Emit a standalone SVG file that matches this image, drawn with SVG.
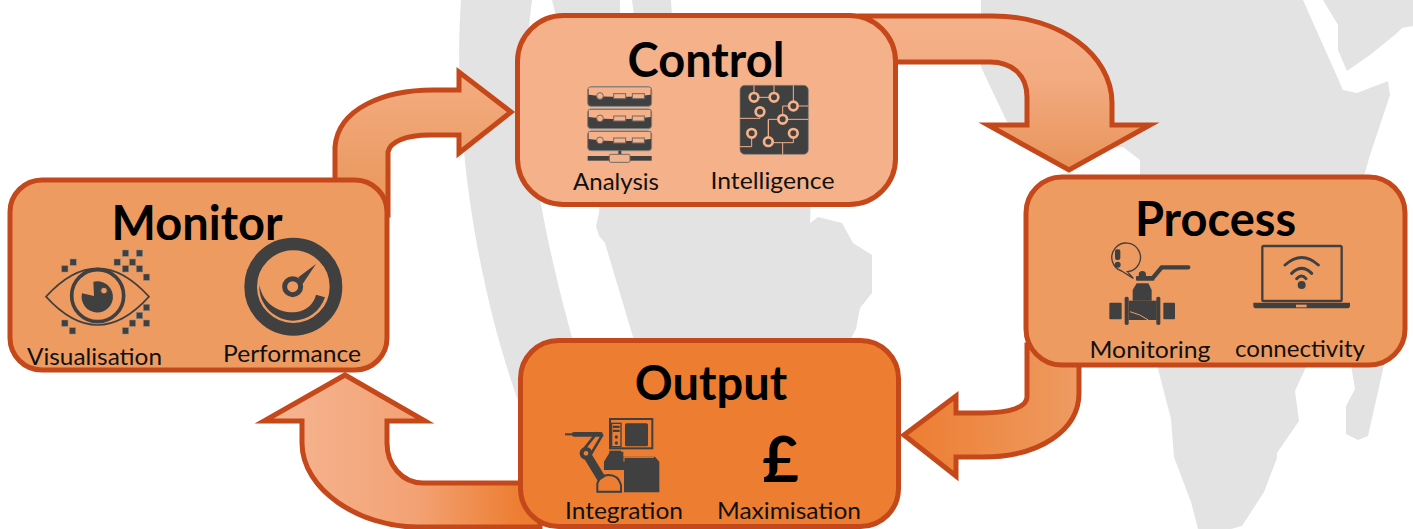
<svg xmlns="http://www.w3.org/2000/svg" width="1413" height="529" viewBox="0 0 1413 529">
<style>
.bg{fill:#e3e3e3}
.box{stroke:#c5481a;stroke-width:5}
.arrow{stroke:#c5481a;stroke-width:5;stroke-linejoin:miter;stroke-miterlimit:10}
text{font-family:Lato,"Open Sans","Liberation Sans",sans-serif;fill:#000}
.title{font-size:47px;font-weight:700;text-anchor:middle}
.label{font-size:23px;text-anchor:middle;fill:#111}
.d{fill:#404040}
.o{fill:none;stroke:#404040}
</style>
<defs>
<linearGradient id="gMC" gradientUnits="userSpaceOnUse" x1="0" y1="68" x2="0" y2="205"><stop offset="0" stop-color="#f4ad83"/><stop offset="1" stop-color="#e9975b"/></linearGradient>
<linearGradient id="gCP" gradientUnits="userSpaceOnUse" x1="0" y1="16" x2="0" y2="170"><stop offset="0" stop-color="#f5b18a"/><stop offset="0.4" stop-color="#f3ab80"/><stop offset="1" stop-color="#e8945a"/></linearGradient>
<linearGradient id="gPO" gradientUnits="userSpaceOnUse" x1="904" y1="0" x2="1079" y2="0"><stop offset="0" stop-color="#ed7d31"/><stop offset="1" stop-color="#ee9b62"/></linearGradient>
<linearGradient id="gOM" gradientUnits="userSpaceOnUse" x1="290" y1="0" x2="520" y2="0"><stop offset="0" stop-color="#f5b38e"/><stop offset="0.55" stop-color="#f3a274"/><stop offset="1" stop-color="#ed7d31"/></linearGradient>
<rect id="px" width="19" height="19" fill="#404040" stroke="#8c8c8c" stroke-width="1.5"/>
<g id="srv">
<rect x="0" y="0" width="192" height="59" rx="10" fill="#404040" stroke="#808080" stroke-width="3"/>
<path d="M3,5 Q3,2 10,2 H182 Q189,2 189,5 V24 Q96,38 3,24 Z" fill="#f5b18a"/>
<circle cx="37" cy="28" r="10" fill="#f5b18a" stroke="#6a6a6a" stroke-width="3"/>
<rect x="78" y="21" width="36" height="15" fill="#f5b18a" stroke="#6a6a6a" stroke-width="3"/>
<rect x="134" y="21" width="36" height="15" fill="#f5b18a" stroke="#6a6a6a" stroke-width="3"/>
</g>
<g id="pad"><circle r="13" fill="#404040" stroke="#f5b18a" stroke-width="8"/></g>
</defs>

<g id="background">
<path class="bg" d="M461,0 C453,110 470,275 525,420 L590,400 C560,300 538,210 529,120 C526,70 528,30 532,0 Z"/>
<path class="bg" d="M552,0 L556,16 L620,16 L620,0 Z M632,0 L634,16 L672,16 L671,0 Z"/>
<path class="bg" d="M530,100 L640,100 L860,205 L811,205 L811,211 L810,223 L818,217 L842,223 L853,243 L872,255 L872,293 L860,308 L856,329 L846,348 L849,380 L664,380 L649,356 L633,337 L605,243 L599,236 L596,226 L599,213 L600,205 L540,205 Z" style="display:none"/>
<path class="bg" d="M600,200 L599,213 L596,226 L599,236 L605,243 L633,337 L649,356 L664,378 L849,378 L846,348 L856,329 L860,308 L872,293 L872,255 L853,243 L842,223 L818,217 L810,223 L811,200 Z"/>
<path class="bg" d="M981,0 L981,67 L1007,122 L1060,150 L1123,147 L1140,160 L1140,180 L1363,180 L1370,155 L1390,95 L1388,81 L1357,93 L1343,90 L1303,0 Z"/>
<path class="bg" d="M1323,0 L1338,25 L1338,50 L1347,71 L1370,55 L1397,33 L1402,28 L1413,26 L1413,0 Z"/>
<path class="bg" d="M1157,365 L1171,419 L1174,457 L1191,502 L1198,529 L1231,529 L1242,526 L1264,492 L1277,458 L1277,453 L1299,421 L1295,391 L1307,365 Z"/>
<path class="bg" d="M1351,365 L1355,389 L1346,406 L1346,434 L1358,440 L1368,436 L1384,365 Z"/>
</g>

<g id="connectors">
<path id="arrow-monitor-control" class="arrow" fill="url(#gMC)" d="M335,190 V147 C338,108 385,90 433,90 H459 V72 L511,112 L459,153 V135 H430 C405,135 390,142 388,152 V215 H335 Z"/>
<path id="arrow-control-process" class="arrow" fill="url(#gCP)" d="M860,16 H993 C1060,16 1112,55 1112,103 V125 H1150 L1069,170 L988,125 H1027 V97 C1027,75 1012,62 990,62 H860 Z"/>
<path id="arrow-process-output" class="arrow" fill="url(#gPO)" d="M1079,345 V393 C1079,430 1040,457 983,457 H956 V476 L904,435 L956,396 V413 H983 C1010,413 1027,407 1027,397 V345 Z"/>
<path id="arrow-output-monitor" class="arrow" fill="url(#gOM)" d="M540,483 H423 C402,483 387,465 387,443 V421 H425 L345,375 L264,421 H302 V443 C302,490 360,527 417,527 H540 Z"/>
</g>

<g id="node-monitor">
<rect class="box" x="10" y="180" width="377" height="190" rx="32" fill="#ee9b62"/>
<text class="title" x="197" y="240">Monitor</text>
<g transform="translate(0,170) scale(.33333)">
<path d="M138,380 Q215,295 293,295 Q370,295 447,380 Q370,465 293,465 Q215,465 138,380 Z" fill="none" stroke="#404040" stroke-width="5"/>
<circle class="o" cx="293" cy="377" r="78" stroke-width="11"/>
<path class="d" d="M280,335 A47,47 0 1 1 246,370 L282,378 Z"/>
<circle cx="312" cy="362" r="10" fill="#ee9b62" stroke="#404040" stroke-width="3"/>
<use href="#px" x="210" y="267"/><use href="#px" x="185" y="287"/><use href="#px" x="367" y="240"/><use href="#px" x="409" y="240"/><use href="#px" x="342" y="267"/><use href="#px" x="388" y="267"/><use href="#px" x="367" y="287"/><use href="#px" x="409" y="287"/><use href="#px" x="430" y="312"/><use href="#px" x="430" y="403"/><use href="#px" x="409" y="427"/><use href="#px" x="388" y="450"/><use href="#px" x="430" y="450"/><use href="#px" x="367" y="473"/><use href="#px" x="185" y="450"/><use href="#px" x="208" y="473"/>
<circle class="o" cx="880" cy="350" r="128" stroke-width="38"/>
<path class="d" d="M778,345 C790,410 850,432 890,426 C920,422 942,400 948,374 L975,382 C960,425 925,450 880,452 C830,452 775,410 778,345 Z"/>
<circle class="o" cx="878" cy="350" r="24" stroke-width="15"/>
<path class="d" d="M895,322 L948,282 L908,342 Z"/>
</g>
<text class="label" x="94.500" y="365" textLength="135" lengthAdjust="spacingAndGlyphs">Visualisation</text>
<text class="label" x="292" y="362" textLength="138" lengthAdjust="spacingAndGlyphs">Performance</text>
</g>

<g id="node-control">
<rect class="box" x="517.500" y="15.500" width="378" height="189" rx="46" fill="#f5b18a"/>
<text class="title" x="706" y="77">Control</text>
<g transform="translate(510,10) scale(.33333)">
<use href="#srv" x="233" y="230"/><use href="#srv" x="233" y="297"/><use href="#srv" x="233" y="363"/>
<rect class="d" x="233" y="438" width="192" height="14"/>
<rect class="d" x="325" y="422" width="9" height="14"/>
<rect x="298" y="433" width="62" height="24" rx="4" fill="#f5b18a" stroke="#6a6a6a" stroke-width="3"/>
<rect x="690" y="226" width="205" height="207" rx="14" fill="#404040" stroke="#808080" stroke-width="2"/>
<path d="M732,226 V262 H792 M792,226 V262 M850,226 V288 H818 V328 M895,288 H850 M690,325 H750 V305 M818,328 H895 M818,328 H775 V395 M725,370 V410 H690 M775,395 H775 M775,330 V410 M850,370 V398 H818 V433 M818,398 H775" fill="none" stroke="#f5b18a" stroke-width="3"/>
<use href="#pad" x="732" y="262"/><use href="#pad" x="792" y="262"/><use href="#pad" x="850" y="288"/><use href="#pad" x="750" y="305"/><use href="#pad" x="818" y="328"/><use href="#pad" x="725" y="370"/><use href="#pad" x="775" y="395"/><use href="#pad" x="850" y="370"/>
</g>
<text class="label" x="616" y="190" textLength="86" lengthAdjust="spacingAndGlyphs">Analysis</text>
<text class="label" x="772.500" y="189" textLength="124" lengthAdjust="spacingAndGlyphs">Intelligence</text>
</g>

<g id="node-process">
<rect class="box" x="1026" y="177" width="379" height="188" rx="36" fill="#ee9b62"/>
<text class="title" x="1215.500" y="236">Process</text>
<g transform="translate(1020,170) scale(.33333)">
<path d="M322,305 A43,43 0 1 0 305,303 L340,325 Z" fill="none" stroke="#404040" stroke-width="4"/>
<rect class="d" x="285" y="238" width="16" height="32" rx="6"/><circle class="d" cx="293" cy="284" r="9"/>
<path d="M400,322 L425,292 H505" fill="none" stroke="#404040" stroke-width="13" stroke-linecap="round" stroke-linejoin="round"/>
<circle class="d" cx="367" cy="314" r="11"/>
<rect class="d" x="348" y="318" width="55" height="14" rx="3"/>
<path class="d" d="M350,340 H385 L395,360 V392 H338 V360 Z"/>
<rect class="d" x="268" y="398" width="37" height="50" rx="3"/>
<rect class="d" x="430" y="398" width="35" height="50" rx="3"/>
<rect class="d" x="314" y="380" width="12" height="85" rx="5"/>
<rect class="d" x="409" y="380" width="12" height="85" rx="5"/>
<rect class="d" x="326" y="392" width="84" height="58"/>
<path d="M330,425 Q360,432 385,450" fill="none" stroke="#ee9b62" stroke-width="3"/>
<rect x="727" y="228" width="238" height="165" rx="4" fill="none" stroke="#404040" stroke-width="7"/>
<path class="d" d="M700,398 H990 V408 Q990,415 980,415 H710 Q700,415 700,408 Z"/>
<rect x="828" y="404" width="32" height="8" fill="#ee9b62"/>
<circle class="d" cx="845" cy="345" r="12"/>
<path d="M795,285 Q845,240 895,285 M815,310 Q845,280 875,310 M830,326 Q845,310 858,326" fill="none" stroke="#404040" stroke-width="9" stroke-linecap="round"/>
</g>
<text class="label" x="1150" y="358" textLength="121" lengthAdjust="spacingAndGlyphs">Monitoring</text>
<text class="label" x="1300" y="357" textLength="130" lengthAdjust="spacingAndGlyphs">connectivity</text>
</g>

<g id="node-output">
<rect class="box" x="520.500" y="340.500" width="378" height="186" rx="38" fill="#ed7d31"/>
<text class="title" x="711" y="400">Output</text>
<g transform="translate(510,335) scale(.33333)">
<rect x="300" y="252" width="127" height="88" fill="none" stroke="#404040" stroke-width="6"/>
<rect x="305" y="265" width="28" height="70" fill="none" stroke="#404040" stroke-width="4"/>
<rect class="d" x="309" y="272" width="20" height="7"/><rect class="d" x="309" y="284" width="20" height="7"/>
<circle class="d" cx="319" cy="306" r="5"/><circle class="d" cx="319" cy="324" r="5"/>
<rect class="d" x="345" y="265" width="69" height="69" rx="5"/>
<path class="d" d="M300,350 H340 V365 H435 L448,380 V472 H342 V405 H282 V380 Z"/>
<path d="M342,380 V367 H432" fill="none" stroke="#ed7d31" stroke-width="3"/>
<path d="M298,350 H333" fill="none" stroke="#404040" stroke-width="6"/>
<path d="M262,470 V445 Q270,420 296,420 Q325,420 333,450 V470 Z" fill="none" stroke="#404040" stroke-width="6"/>
<path d="M262,470 H333" stroke="#404040" stroke-width="4"/>
<path d="M228,355 L275,432" stroke="#404040" stroke-width="26" fill="none"/>
<path d="M216,350 L262,292 M240,362 L278,298" stroke="#404040" stroke-width="8" fill="none"/>
<circle class="d" cx="228" cy="355" r="19"/><circle cx="228" cy="355" r="7" fill="#ed7d31" stroke="none"/>
<path d="M165,298 H195" stroke="#404040" stroke-width="6"/>
<path d="M192,298 H272" stroke="#404040" stroke-width="14" stroke-linecap="round"/>
</g>
<text x="780.500" y="482" font-size="63" font-weight="700" text-anchor="middle">£</text>
<text class="label" x="624" y="519" textLength="118" lengthAdjust="spacingAndGlyphs">Integration</text>
<text class="label" x="789" y="519" textLength="144" lengthAdjust="spacingAndGlyphs">Maximisation</text>
</g>
</svg>
